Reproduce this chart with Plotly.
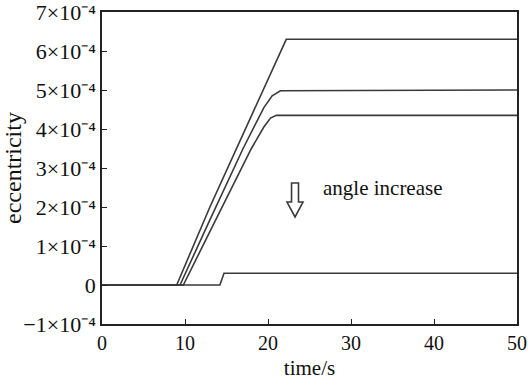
import plotly.graph_objects as go

# Data (eccentricity vs time)
t1 = [0, 9.0, 13.0, 17.0, 20.0, 22.2, 50]
e1 = [0, 0, 2.0e-4, 3.85e-4, 5.25e-4, 6.3e-4, 6.3e-4]

t2 = [0, 9.4, 13.0, 17.0, 19.5, 20.5, 21.5, 50]
e2 = [0, 0, 1.67e-4, 3.5e-4, 4.55e-4, 4.85e-4, 4.98e-4, 5.0e-4]

t3 = [0, 9.8, 14.0, 18.0, 19.5, 20.3, 21.0, 50]
e3 = [0, 0, 1.8e-4, 3.5e-4, 4.05e-4, 4.28e-4, 4.35e-4, 4.35e-4]

t4 = [0, 14.2, 14.7, 50]
e4 = [0, 0, 0.3e-4, 0.3e-4]

x_ticks = [0, 10, 20, 30, 40, 50]
y_ticks = [-1e-4, 0, 1e-4, 2e-4, 3e-4, 4e-4, 5e-4, 6e-4, 7e-4]
y_ticktext = ["−1×10⁻⁴", "0", "1×10⁻⁴", "2×10⁻⁴", "3×10⁻⁴",
              "4×10⁻⁴", "5×10⁻⁴", "6×10⁻⁴", "7×10⁻⁴"]

LINE = "#3a3a3a"
FONT = "Liberation Serif"
FS = 20

fig = go.Figure()
for t, e in [(t1, e1), (t2, e2), (t3, e3), (t4, e4)]:
    fig.add_trace(go.Scatter(x=t, y=e, mode="lines",
                             line=dict(color=LINE, width=1.6), showlegend=False))

# hollow down arrow (paper coords)
c, hw, HW = 0.4651, 0.0084, 0.0193
ytop, yhead, ytip = 0.452, 0.391, 0.343
path = (f"M{c-hw},{ytop} L{c-hw},{yhead} L{c-HW},{yhead} L{c},{ytip} "
        f"L{c+HW},{yhead} L{c+hw},{yhead} L{c+hw},{ytop} Z")
fig.add_shape(type="path", path=path, xref="paper", yref="paper",
              line=dict(color=LINE, width=1.6), fillcolor="rgba(0,0,0,0)")
fig.add_annotation(text="angle increase", xref="paper", yref="paper",
                   x=0.527, y=0.436, xanchor="left", yanchor="middle",
                   showarrow=False, font=dict(family=FONT, size=21, color="#111"))

fig.update_layout(
    width=528, height=380,
    margin=dict(l=102, r=11, t=12, b=56),
    paper_bgcolor="white", plot_bgcolor="white",
    font=dict(family=FONT, size=FS, color="#111"),
    xaxis=dict(range=[0, 50], tickvals=x_ticks, ticks="inside", ticklen=5,
               tickcolor="#222", showline=True, linecolor="#222", linewidth=1.5,
               mirror=True, showgrid=False, zeroline=False, automargin=False,
               ticklabeloverflow="allow",
               title=dict(text="time/s", standoff=10, font=dict(size=21)),
               tickfont=dict(size=FS)),
    yaxis=dict(range=[-1e-4, 7e-4], tickvals=y_ticks, ticktext=y_ticktext,
               ticks="inside", ticklen=5, tickcolor="#222",
               showline=True, linecolor="#222", linewidth=1.5, mirror=True,
               showgrid=False, zeroline=False, automargin=False,
               ticklabeloverflow="allow",
               title=dict(text="eccentricity", standoff=2, font=dict(size=24)),
               tickfont=dict(size=22)),
)

fig.write_html("out.html")
